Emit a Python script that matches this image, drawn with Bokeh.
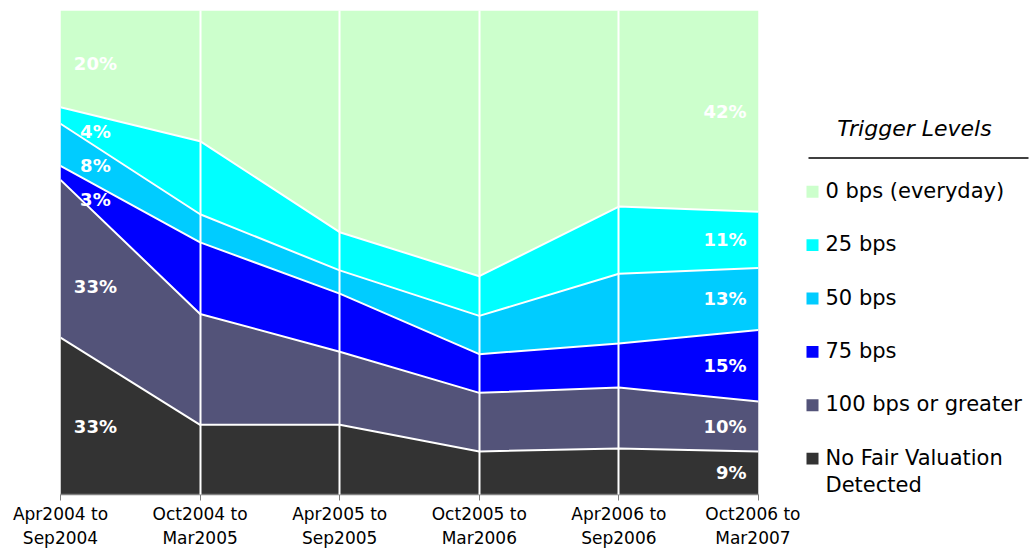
import numpy as np
from bokeh.plotting import figure
from bokeh.models import ColumnDataSource, Range1d, FixedTicker
from bokeh.layouts import row
from bokeh.core.properties import value
from bokeh.embed import file_html
from bokeh.resources import INLINE

# ---- data ----
periods = ["Apr2004 to\nSep2004", "Oct2004 to\nMar2005", "Apr2005 to\nSep2005",
           "Oct2005 to\nMar2006", "Apr2006 to\nSep2006", "Oct2006 to\nMar2007"]
series_names = ["No Fair Valuation\nDetected", "100 bps or greater", "75 bps",
                "50 bps", "25 bps", "0 bps (everyday)"]
no_fair = [32.4, 14.4, 14.4, 8.9, 9.5, 8.9]
bps100 = [32.6, 22.9, 15.1, 12.1, 12.6, 10.3]
bps75 = [2.9, 14.8, 12.0, 8.0, 9.1, 14.8]
bps50 = [8.7, 5.8, 4.8, 7.9, 14.4, 12.8]
bps25 = [3.4, 15.1, 7.9, 8.2, 13.9, 11.6]
bps0 = [20.0, 27.0, 45.8, 54.9, 40.5, 41.6]
first_labels = ["33%", "33%", "3%", "8%", "4%", "20%"]   # bottom -> top
last_labels = ["9%", "10%", "15%", "13%", "11%", "42%"]  # bottom -> top
colors = ["#333333", "#535379", "#0000FF", "#00CCFF", "#00FFFF", "#CCFFCC"]

FONT = value("DejaVu Sans")
TOP, BOTTOM = 10, 54
H = 550
x = list(range(len(periods)))
keys = ["nf", "b100", "b75", "b50", "b25", "b0"]
vals = [no_fair, bps100, bps75, bps50, bps25, bps0]
src = ColumnDataSource(dict(x=x, **{k: v for k, v in zip(keys, vals)}))

p = figure(width=800, height=H, x_range=Range1d(0, len(periods) - 1),
           y_range=Range1d(0, 100), output_backend="svg", toolbar_location=None,
           y_axis_location=None, min_border_left=60, min_border_right=42,
           min_border_top=TOP, min_border_bottom=BOTTOM)
p.outline_line_color = None
p.background_fill_color = "white"
p.border_fill_color = "white"

p.varea_stack(stackers=keys, x="x", color=colors, source=src)

cum = np.cumsum(np.array(vals), axis=0)
for b in cum[:-1]:
    p.line(x, b, line_color="white", line_width=2)

# labels on first and last columns
t = 0.25
lower = np.vstack([np.zeros(len(x)), cum[:-1]])
mid = (lower + cum) / 2
mid_first = mid[:, 0] * (1 - t) + mid[:, 1] * t
p.text(x=[t] * len(first_labels), y=list(mid_first), text=first_labels,
       text_color="white", text_font=FONT, text_font_style="bold",
       text_font_size="18px", text_align="center", text_baseline="middle")
p.text(x=[x[-1]] * len(last_labels), y=list(mid[:, -1]), text=last_labels,
       x_offset=-12, text_color="white", text_font=FONT, text_font_style="bold",
       text_font_size="18px", text_align="right", text_baseline="middle")

p.xaxis.ticker = FixedTicker(ticks=x)
p.xaxis.major_label_overrides = {i: lab for i, lab in zip(x, periods)}
p.xaxis.major_label_text_font = "DejaVu Sans"
p.xaxis.major_label_text_font_size = "17px"
p.xaxis.major_label_text_color = "black"
p.xaxis.major_label_standoff = 3
p.xaxis.axis_line_color = "#808080"
p.xaxis.axis_line_width = 1.5
p.xaxis.major_tick_line_color = "#808080"
p.xaxis.major_tick_out = 6
p.xaxis.major_tick_in = 0
p.xaxis.minor_tick_line_color = None

p.xgrid.ticker = FixedTicker(ticks=x)
p.xgrid.grid_line_color = "white"
p.xgrid.grid_line_width = 2
p.xgrid.level = "overlay"
p.ygrid.visible = False

# ---- legend panel (frame aligned with main plot frame; y in page pixels) ----
leg = figure(width=235, height=H, x_range=Range1d(0, 235),
             y_range=Range1d(H - BOTTOM, TOP),
             output_backend="svg", toolbar_location=None, x_axis_location=None,
             y_axis_location=None, min_border_left=0, min_border_right=0,
             min_border_top=TOP, min_border_bottom=BOTTOM)
leg.outline_line_color = None
leg.xgrid.visible = False
leg.ygrid.visible = False
leg.text(x=[114], y=[128], text=["Trigger Levels"], text_font=FONT,
         text_font_style="italic", text_font_size="22px", text_align="center",
         text_baseline="middle", text_color="black")
leg.segment(x0=[8], y0=[158], x1=[228], y1=[158], line_color="black", line_width=1.5)

order = list(range(len(series_names)))[::-1]
ys = [192 + 53.6 * i for i in range(len(order))]
leg.rect(x=[12] * len(order), y=ys, width=12, height=12,
         fill_color=[colors[k] for k in order], line_color=None)
leg.text(x=[25] * len(order), y=[yy - 13 for yy in ys],
         text=[series_names[k] for k in order], text_font=FONT,
         text_font_size="21px", text_align="left", text_baseline="top",
         text_color="black", text_line_height=1.15)

layout = row(p, leg)
open("out.html", "w").write(file_html(layout, INLINE))
